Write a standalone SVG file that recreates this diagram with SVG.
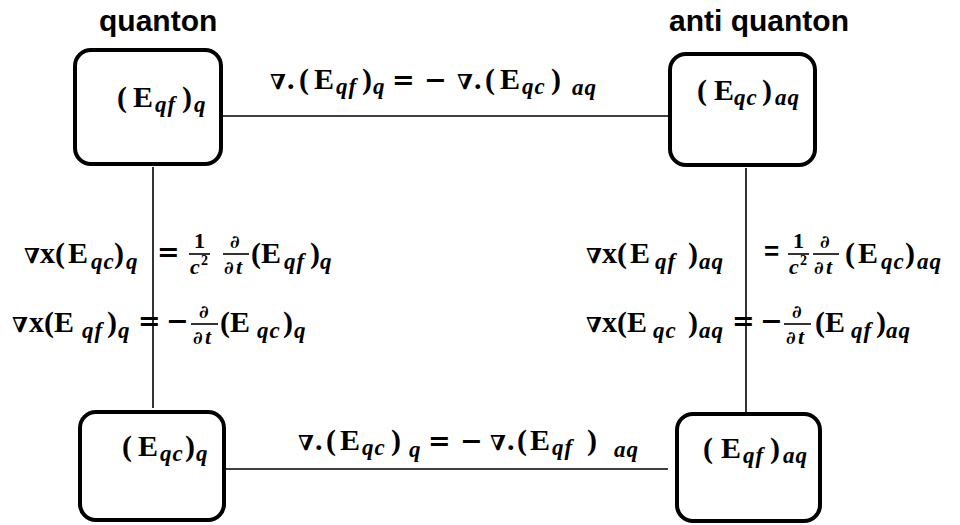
<svg xmlns="http://www.w3.org/2000/svg" width="960" height="525" viewBox="0 0 960 525">
<style>
.box{fill:#fff;stroke:#000;stroke-width:4}
.ln{stroke:#000;stroke-width:1.6;fill:none}
.bar{stroke:#000;stroke-width:1.6}
.t{font-family:"Liberation Sans",Arial,sans-serif;font-weight:bold;font-size:30px;fill:#000}
.m{font-family:"Liberation Serif","DejaVu Serif",serif;font-weight:bold;font-size:30px;fill:#000}
.s{font-style:italic;font-size:23px;letter-spacing:1px}
.o{font-family:"DejaVu Serif",serif;font-weight:bold;font-size:27px}
.n{font-family:"DejaVu Serif",serif;font-weight:bold;font-size:21px}
.f{font-size:22px}
.fi{font-size:22px;font-style:italic}
.d{font-family:"DejaVu Serif",serif;font-size:18px;font-style:italic;font-weight:bold}
.sup{font-size:14px}
.eqs{font-family:"Liberation Sans",Arial,sans-serif;font-size:26px}
</style>
<rect width="960" height="525" fill="#fff"/>
<g id="connectors">
<line class="ln" x1="223" y1="116" x2="668" y2="116"/>
<line class="ln" x1="153" y1="167" x2="153" y2="408"/>
<line class="ln" x1="746" y1="168" x2="746" y2="412"/>
<line class="ln" x1="226" y1="469" x2="668" y2="469"/>
</g>
<g id="titles">
<text class="t" x="99" y="31">quanton</text>
<text class="t" x="669" y="31">anti quanton</text>
</g>
<g id="node-qf-q">
<rect class="box" x="75" y="50" width="146" height="114" rx="16"/>
<text class="m"><tspan x="117" y="107">(</tspan><tspan x="133" y="107">E</tspan><tspan class="s" x="155" y="112">qf</tspan><tspan x="182" y="107">)</tspan><tspan class="s" x="194" y="112">q</tspan></text>
</g>
<g id="node-qc-aq">
<rect class="box" x="670" y="54" width="145" height="111" rx="16"/>
<text class="m"><tspan x="697" y="100">(</tspan><tspan x="714" y="100">E</tspan><tspan class="s" x="734" y="105">qc</tspan><tspan x="762" y="100">)</tspan><tspan class="s" x="775" y="105">aq</tspan></text>
</g>
<g id="node-qc-q">
<rect class="box" x="80" y="412" width="144" height="108" rx="16"/>
<text class="m"><tspan x="122" y="456">(</tspan><tspan x="138" y="456">E</tspan><tspan class="s" x="160" y="461">qc</tspan><tspan x="185" y="456">)</tspan><tspan class="s" x="196" y="461">q</tspan></text>
</g>
<g id="node-qf-aq">
<rect class="box" x="677" y="414" width="143" height="107" rx="16"/>
<text class="m"><tspan x="703" y="458">(</tspan><tspan x="721" y="458">E</tspan><tspan class="s" x="743" y="463">qf</tspan><tspan x="770" y="458">)</tspan><tspan class="s" x="783" y="463">aq</tspan></text>
</g>
<g id="labels">
<!-- top equation -->
<text class="m"><tspan class="n" x="270" y="89">∇</tspan><tspan x="287" y="89">.</tspan><tspan x="299" y="89">(</tspan><tspan x="314" y="89">E</tspan><tspan class="s" x="336" y="94">qf</tspan><tspan x="362" y="89">)</tspan><tspan class="s" x="373" y="94">q</tspan><tspan class="o" x="392" y="89">=</tspan><tspan class="o" x="424" y="89">−</tspan><tspan class="n" x="457" y="89">∇</tspan><tspan x="474" y="89">.</tspan><tspan x="485" y="89">(</tspan><tspan x="500" y="89">E</tspan><tspan class="s" x="522" y="94">qc</tspan><tspan x="551" y="89">)</tspan><tspan class="s" x="572" y="95">aq</tspan></text>
<!-- bottom equation -->
<text class="m"><tspan class="n" x="298" y="450">∇</tspan><tspan x="315" y="450">.</tspan><tspan x="326" y="450">(</tspan><tspan x="340" y="450">E</tspan><tspan class="s" x="362" y="455">qc</tspan><tspan x="391" y="450">)</tspan><tspan class="s" x="409" y="457">q</tspan><tspan class="o" x="428" y="450">=</tspan><tspan class="o" x="460" y="450">−</tspan><tspan class="n" x="490" y="450">∇</tspan><tspan x="507" y="450">.</tspan><tspan x="517" y="450">(</tspan><tspan x="530" y="450">E</tspan><tspan class="s" x="552" y="455">qf</tspan><tspan x="587" y="450">)</tspan><tspan class="s" x="614" y="457">aq</tspan></text>
<!-- left line 1 -->
<text class="m"><tspan class="n" x="24" y="263">∇</tspan><tspan x="40" y="263">x(</tspan><tspan x="68" y="263">E</tspan><tspan class="s" x="91" y="269">qc</tspan><tspan x="114" y="263">)</tspan><tspan class="s" x="126" y="269">q</tspan><tspan class="o" x="157" y="261">=</tspan>
<tspan class="f" x="194" y="248">1</tspan><tspan class="fi" x="190" y="274">c</tspan><tspan class="sup" x="201" y="265">2</tspan>
<tspan class="d" x="230" y="248">∂</tspan><tspan class="d" x="224" y="274">∂</tspan><tspan class="fi" x="236" y="274">t</tspan>
<tspan x="251" y="263">(E</tspan><tspan class="s" x="284" y="269">qf</tspan><tspan x="310" y="263">)</tspan><tspan class="s" x="320" y="269">q</tspan></text>
<line class="bar" x1="189" y1="254" x2="210" y2="254"/>
<line class="bar" x1="223" y1="254" x2="249" y2="254"/>
<!-- left line 2 -->
<text class="m"><tspan class="n" x="12" y="332">∇</tspan><tspan x="29" y="332">x(E</tspan><tspan class="s" x="82" y="338">qf</tspan><tspan x="107" y="332">)</tspan><tspan class="s" x="118" y="338">q</tspan><tspan class="o" x="138" y="330">=</tspan><tspan class="o" x="166" y="330">−</tspan>
<tspan class="d" x="199" y="318">∂</tspan><tspan class="d" x="193" y="344">∂</tspan><tspan class="fi" x="205" y="344">t</tspan>
<tspan x="220" y="332">(E</tspan><tspan class="s" x="257" y="338">qc</tspan><tspan x="283" y="332">)</tspan><tspan class="s" x="294" y="338">q</tspan></text>
<line class="bar" x1="191" y1="324" x2="218" y2="324"/>
<!-- right line 1 -->
<text class="m"><tspan class="n" x="586" y="263">∇</tspan><tspan x="602" y="263">x(</tspan><tspan x="630" y="263">E</tspan><tspan class="s" x="655" y="269">qf</tspan><tspan x="688" y="263">)</tspan><tspan class="s" x="699" y="269">aq</tspan><tspan class="eqs" x="764" y="260">=</tspan>
<tspan class="f" x="793" y="248">1</tspan><tspan class="fi" x="789" y="274">c</tspan><tspan class="sup" x="800" y="265">2</tspan>
<tspan class="d" x="820" y="248">∂</tspan><tspan class="d" x="814" y="274">∂</tspan><tspan class="fi" x="826" y="274">t</tspan>
<tspan x="845" y="263">(</tspan><tspan x="858" y="263">E</tspan><tspan class="s" x="881" y="269">qc</tspan><tspan x="905" y="263">)</tspan><tspan class="s" x="917" y="269">aq</tspan></text>
<line class="bar" x1="788" y1="254" x2="809" y2="254"/>
<line class="bar" x1="813" y1="254" x2="839" y2="254"/>
<!-- right line 2 -->
<text class="m"><tspan class="n" x="586" y="332">∇</tspan><tspan x="602" y="332">x(E</tspan><tspan class="s" x="653" y="338">qc</tspan><tspan x="688" y="332">)</tspan><tspan class="s" x="699" y="338">aq</tspan><tspan class="o" x="732" y="330">=</tspan><tspan class="o" x="760" y="330">−</tspan>
<tspan class="d" x="792" y="318">∂</tspan><tspan class="d" x="786" y="344">∂</tspan><tspan class="fi" x="798" y="344">t</tspan>
<tspan x="815" y="332">(E</tspan><tspan class="s" x="851" y="338">qf</tspan><tspan x="876" y="332">)</tspan><tspan class="s" x="886" y="338">aq</tspan></text>
<line class="bar" x1="784" y1="324" x2="811" y2="324"/>
</g>
</svg>
